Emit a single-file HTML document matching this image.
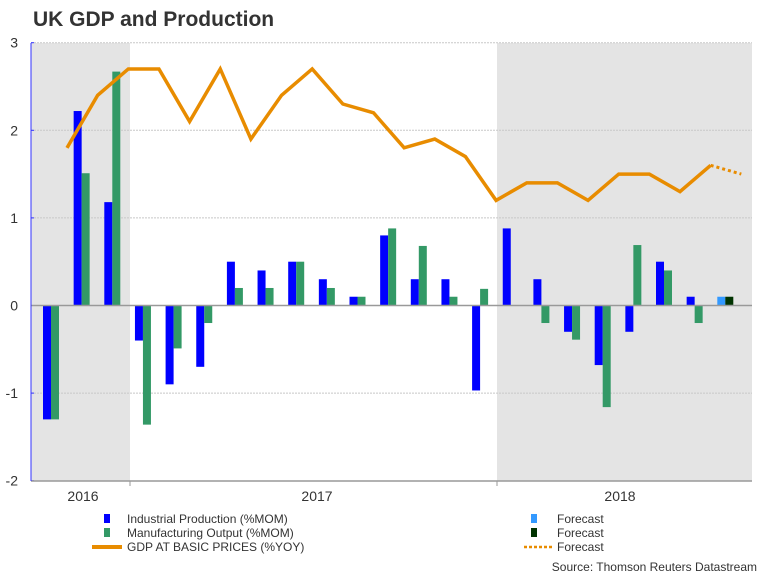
<!DOCTYPE html>
<html><head><meta charset="utf-8"><style>
html,body{margin:0;padding:0;background:#fff;}
svg{display:block;font-family:"Liberation Sans",Arial,sans-serif;}
</style></head><body>
<svg id="chart" width="768" height="576" viewBox="0 0 768 576">
<text x="33" y="26" font-size="21" font-weight="bold" fill="#333">UK GDP and Production</text>
<g id="plot"></g>
<g>
  <rect x="104" y="514" width="6" height="9" fill="#0000ff"/>
  <text x="127" y="523" font-size="12" fill="#333">Industrial Production (%MOM)</text>
  <rect x="104" y="528" width="6" height="9" fill="#339966"/>
  <text x="127" y="537" font-size="12" fill="#333">Manufacturing Output (%MOM)</text>
  <rect x="92" y="545" width="30" height="4" fill="#e88c00"/>
  <text x="127" y="551" font-size="12" fill="#333">GDP AT BASIC PRICES (%YOY)</text>
  <rect x="531" y="514" width="6" height="9" fill="#3399ff"/>
  <text x="557" y="523" font-size="12" fill="#333">Forecast</text>
  <rect x="531" y="528" width="6" height="9" fill="#003300"/>
  <text x="557" y="537" font-size="12" fill="#333">Forecast</text>
  <line x1="524" y1="547" x2="552" y2="547" stroke="#e88c00" stroke-width="2.5" stroke-dasharray="3,2"/>
  <text x="557" y="551" font-size="12" fill="#333">Forecast</text>
</g>
<text x="757" y="571" font-size="12" fill="#333" text-anchor="end">Source: Thomson Reuters Datastream</text>
</svg>
<script>
const yTicks = [3, 2, 1, 0, -1, -2];
const years = ["2016", "2017", "2018"];
const industrial = [-1.3, 2.22, 1.18, -0.4, -0.9, -0.7, 0.5, 0.4, 0.5, 0.3, 0.1, 0.8, 0.3, 0.3, -0.97, 0.88, 0.3, -0.3, -0.68, -0.3, 0.5, 0.1];
const manufacturing = [-1.3, 1.51, 2.67, -1.36, -0.49, -0.2, 0.2, 0.2, 0.5, 0.2, 0.1, 0.88, 0.68, 0.1, 0.19, 0, -0.2, -0.39, -1.16, 0.69, 0.4, -0.2];
const ipForecast = [0.1];
const mfgForecast = [0.1];
const gdp = [1.8, 2.4, 2.7, 2.7, 2.1, 2.7, 1.9, 2.4, 2.7, 2.3, 2.2, 1.8, 1.9, 1.7, 1.2, 1.4, 1.4, 1.2, 1.5, 1.5, 1.3, 1.6];
const gdpForecast = [1.5];

const NS = "http://www.w3.org/2000/svg";
const g = document.getElementById("plot");
const X0 = 31, X1 = 752, Ytop = 43, Ybot = 481;
const y = v => 305.5 - v * 87.6;
const xm = i => 51 + i * 30.65; // bar-pair centre for month index
function el(tag, attrs, parent) {
  const e = document.createElementNS(NS, tag);
  for (const k in attrs) e.setAttribute(k, attrs[k]);
  (parent || g).appendChild(e);
  return e;
}
// shaded year bands
let s = el("rect", {x: X0, y: Ytop, width: 130 - X0, height: Ybot - Ytop, fill: "#e4e4e4"});


s = el("rect", {x: 497, y: Ytop, width: X1 - 497, height: Ybot - Ytop, fill: "#e4e4e4"});


// gridlines + y labels
yTicks.forEach(t => {
  if (t !== 0 && t !== -2) {
    const l = el("line", {x1: X0, x2: X1, y1: y(t), y2: y(t), stroke: "#c8c8c8", "stroke-dasharray": "2,1"});
    
    
  }
  const tk = el("line", {x1: X0, x2: X0 + 3, y1: y(t), y2: y(t), stroke: "#3333ff"});
  
  
  const tx = el("text", {x: 18, y: y(t) + 5, "font-size": 14, fill: "#333", "text-anchor": "end"});
  tx.textContent = t;
  
  
});
// bottom axis
let a = el("line", {x1: X0, x2: X1, y1: Ybot, y2: Ybot, stroke: "#999", "stroke-width": 1.5});


[130, 497].forEach(px => {
  const t = el("line", {x1: px, x2: px, y1: Ybot, y2: Ybot + 5, stroke: "#999"});
  
  
});
[83, 317, 620].forEach((px, i) => {
  const t = el("text", {x: px, y: 501, "font-size": 14, fill: "#333", "text-anchor": "middle"});
  t.textContent = years[i];
  
  
});
// bars
const BW = 8;
function bar(v, xl, color, name) {
  const r = el("rect", {x: xl, y: Math.min(y(v), y(0)), width: BW, height: Math.abs(y(v) - y(0)), fill: color});
  
  
}
industrial.forEach((v, i) => bar(v, xm(i) - BW, "#0000ff", "bar-industrial-production"));
manufacturing.forEach((v, i) => bar(v, xm(i), "#339966", "bar-manufacturing-output"));
const fi = industrial.length;
ipForecast.forEach((v, k) => bar(v, xm(fi + k) - BW, "#3399ff", "bar-industrial-forecast"));
mfgForecast.forEach((v, k) => bar(v, xm(fi + k), "#003300", "bar-manufacturing-forecast"));
// zero line
a = el("line", {x1: X0, x2: X1, y1: y(0), y2: y(0), stroke: "#999", "stroke-width": 1.5});


// left axis
a = el("line", {x1: X0, x2: X0, y1: Ytop, y2: Ybot, stroke: "#3333ff"});


// gdp line
const gx = j => xm(j) + 16;
const pts = gdp.map((v, j) => gx(j) + "," + y(v)).join(" ");
let ln = el("polyline", {points: pts, fill: "none", stroke: "#e88c00", "stroke-width": 3.5, "stroke-linejoin": "miter"});


const last = gdp.length - 1;
const fpts = [gx(last) + "," + y(gdp[last])].concat(gdpForecast.map((v, k) => gx(last + 1 + k) + "," + y(v))).join(" ");
ln = el("polyline", {points: fpts, fill: "none", stroke: "#e88c00", "stroke-width": 3, "stroke-dasharray": "3,3"});


</script>
</body></html>
